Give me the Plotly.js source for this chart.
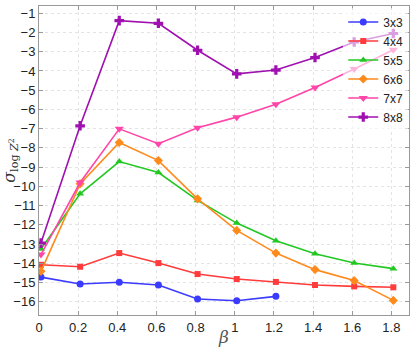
<!DOCTYPE html>
<html>
<head>
<meta charset="utf-8">
<script src="https://cdn.plot.ly/plotly-3.0.1.min.js"></script>
<style>
  html, body { margin: 0; padding: 0; background: #fff; }
  #PlotDiv { width: 416px; height: 347px; }
</style>
</head>
<body>
<div id="PlotDiv"></div>
<script>
// beta values (points sit a hair right of the ticks)
var betaFull = [0.01, 0.21, 0.41, 0.61, 0.81, 1.01, 1.21, 1.41, 1.61, 1.81];
var betaShort = [0.01, 0.21, 0.41, 0.61, 0.81, 1.01, 1.21];

var names = ['3x3', '4x4', '5x5', '6x6', '7x7', '8x8'];
var s3x3 = [-14.72, -15.08, -14.99, -15.13, -15.86, -15.95, -15.72];
var s4x4 = [-14.08, -14.18, -13.47, -13.99, -14.56, -14.82, -14.97, -15.13, -15.2, -15.25];
var s5x5 = [-13.26, -10.39, -8.71, -9.28, -10.73, -11.91, -12.83, -13.5, -13.99, -14.28];
var s6x6 = [-14.42, -9.87, -7.72, -8.66, -10.65, -12.29, -13.47, -14.33, -14.9, -15.93];
var s7x7 = [-13.55, -9.8, -7.01, -7.78, -6.95, -6.4, -5.73, -4.86, -3.9, -2.9];
var s8x8 = [-12.95, -6.85, -1.38, -1.52, -2.92, -4.15, -3.95, -3.3, -2.49, -2.05];

var ColorLib = ['#3b3bff', '#ff3b3b', '#22c822', '#ff8a1c', '#ff45a8', '#a010b0'];
var symbols = ['circle', 'square', 'triangle-up', 'diamond', 'triangle-down', 'cross'];
var sizes = [7, 6, 7, 7, 8, 8];

var series = [s3x3, s4x4, s5x5, s6x6, s7x7, s8x8];
var plotdata = [];
for (var i = 0; i < series.length; i++) {
  plotdata.push({
    type: 'scatter',
    mode: 'lines+markers',
    name: names[i],
    x: i == 0 ? betaShort : betaFull,
    y: series[i],
    line: { color: ColorLib[i], width: 1.6 },
    marker: { color: ColorLib[i], symbol: symbols[i], size: sizes[i] }
  });
}

var layout = {
  width: 416,
  height: 347,
  margin: { l: 39, r: 7, t: 6, b: 32 },
  paper_bgcolor: '#fff',
  plot_bgcolor: '#fff',
  font: { family: 'Liberation Sans, Arial', size: 13, color: '#222' },
  showlegend: true,
  legend: {
    x: 0.998, y: 0.995, xanchor: 'right', yanchor: 'top',
    bgcolor: 'rgba(255,255,255,0.6)',
    font: { size: 12, color: '#222' },
    itemwidth: 30
  },
  xaxis: {
    range: [0, 1.89],
    tick0: 0, dtick: 0.2,
    ticks: 'inside', ticklen: 4, tickcolor: '#999',
    showline: true, linecolor: '#999', linewidth: 1, mirror: 'ticks',
    showgrid: true, gridcolor: '#e4e4e4', griddash: 'dot',
    zeroline: false,
    title: { text: '<i>β</i>', font: { family: 'DejaVu Serif, serif', size: 17, color: '#555' }, standoff: 2 }
  },
  yaxis: {
    range: [-16.69, -0.62],
    tick0: -16, dtick: 1,
    ticks: 'inside', ticklen: 4, tickcolor: '#999',
    showline: true, linecolor: '#999', linewidth: 1, mirror: 'ticks',
    showgrid: true, gridcolor: '#e4e4e4', griddash: 'dot',
    zeroline: false,
    title: { text: '<i>σ</i><sub>log <i>Z</i><sup>2</sup></sub>', font: { family: 'DejaVu Serif, serif', size: 16, color: '#333' }, standoff: 4 }
  }
};

Plotly.newPlot('PlotDiv', plotdata, layout, { displayModeBar: false, staticPlot: true });
</script>
</body>
</html>
